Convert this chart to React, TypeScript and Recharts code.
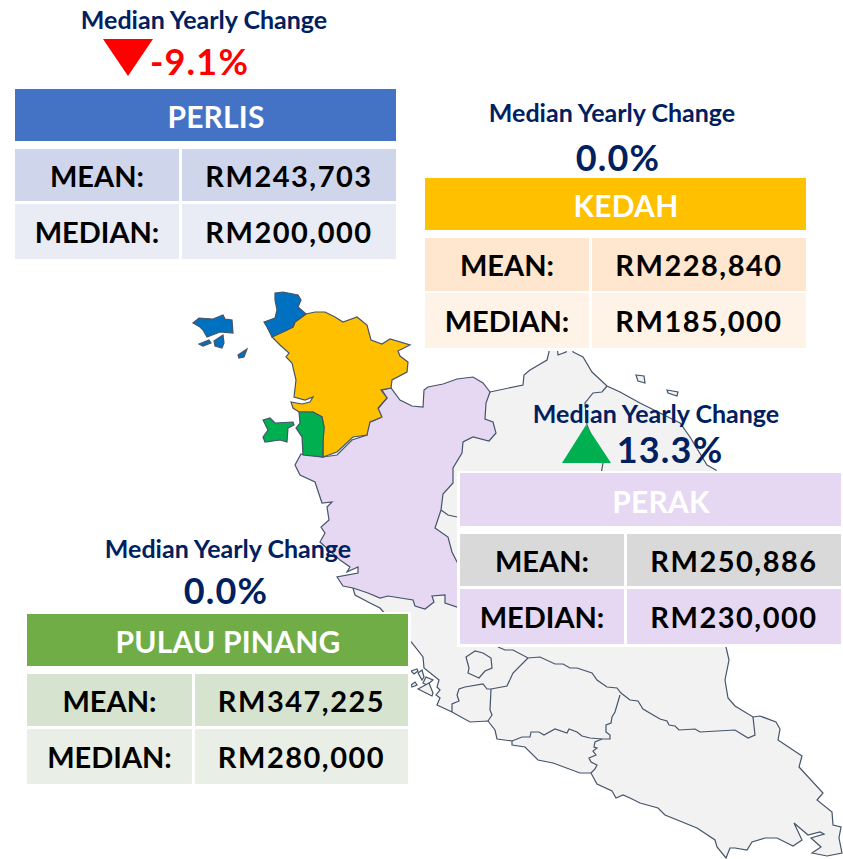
import React from "react";
import { Polygon, Scatter, ScatterChart, XAxis, YAxis } from "recharts";

type Pt = { x: number; y: number };

const toPts = (raw: number[][]): Pt[] => raw.map(([x, y]) => ({ x, y }));

// map outlines in pixel units
const peninsula = [
  [490, 392], [523, 385], [524, 375], [530, 370], [547, 360], [549, 352], [549, 345], [557, 345], [558, 355], [566, 352],
  [566, 345], [573, 345], [573, 352], [583, 357], [592, 372], [607, 386], [620, 392], [640, 403], [660, 413], [680, 423],
  [690, 437], [707, 465], [716, 470], [726, 600], [726, 647], [729, 660], [725, 680], [728, 698], [735, 706], [753, 717],
  [760, 716], [776, 722], [780, 729], [778, 740], [802, 756], [799, 767], [823, 793], [817, 800], [832, 812], [833, 825],
  [841, 827], [839, 838], [842, 853], [827, 856], [812, 853], [821, 847], [811, 838], [824, 834], [820, 832], [808, 835],
  [794, 823], [802, 840], [793, 846], [777, 838], [765, 838], [752, 842], [747, 850], [735, 848], [730, 848], [726, 858],
  [717, 847], [715, 840], [697, 828], [665, 815], [658, 808], [640, 803], [630, 798], [623, 795], [616, 798], [612, 791],
  [597, 784], [591, 773], [580, 773], [553, 763], [538, 760], [525, 747], [512, 745], [512, 741], [497, 739], [495, 730],
  [488, 721], [470, 722], [452, 712], [437, 705], [440, 698], [436, 695], [440, 690], [437, 687], [439, 680], [424, 668],
  [423, 657], [412, 643], [395, 625], [380, 608], [370, 603], [355, 595], [353, 588], [420, 500],
];
const perak = [
  [301, 454], [323, 457], [337, 455], [352, 440], [367, 435], [368, 423], [380, 418], [377, 410], [387, 398], [382, 390],
  [391, 388], [400, 400], [412, 406], [423, 407], [424, 390], [428, 387], [443, 384], [457, 379], [473, 377], [483, 383],
  [490, 392], [486, 403], [485, 419], [493, 422], [496, 433], [489, 441], [473, 437], [463, 442], [462, 453], [453, 468],
  [453, 483], [443, 494], [441, 510], [435, 528], [448, 537], [452, 552], [457, 562], [470, 580], [470, 600], [457, 607],
  [445, 603], [445, 595], [432, 596], [434, 602], [425, 609], [415, 606], [413, 600], [388, 596], [380, 598], [368, 593],
  [353, 588], [343, 586], [337, 577], [358, 573], [358, 567], [347, 572], [350, 567], [340, 560], [320, 542], [325, 533],
  [321, 527], [329, 520], [327, 507], [332, 502], [322, 503], [315, 482], [300, 475], [295, 465],
];
const kedah = [
  [272, 337], [287, 330], [293, 327], [295, 322], [306, 314], [315, 312], [325, 312], [335, 317], [343, 322], [357, 317],
  [367, 325], [371, 340], [382, 344], [390, 339], [410, 345], [398, 351], [400, 356], [408, 362], [407, 372], [392, 380],
  [391, 388], [381, 390], [387, 398], [378, 408], [382, 417], [370, 422], [367, 435], [353, 437], [337, 452], [323, 457],
  [323, 443], [324, 427], [322, 417], [313, 412], [299, 412], [293, 408], [291, 402], [302, 404], [310, 402], [313, 397],
  [305, 400], [294, 397], [296, 380], [292, 363], [286, 357], [289, 353], [280, 345],
];
const perlisMain = [
  [275, 293], [283, 292], [298, 295], [301, 300], [298, 307], [306, 314], [295, 322], [293, 327], [287, 330], [272, 337],
  [267, 327], [264, 322], [275, 318], [277, 310], [275, 300],
];
const langkawi = [
  [193, 323], [199, 318], [213, 319], [223, 315], [225, 319], [232, 320], [233, 333], [220, 332], [207, 337], [203, 330], [200, 327],
];
const perlisIsleA = [[199, 344], [209, 340], [211, 343], [203, 346]];
const perlisIsleB = [[214, 341], [223, 335], [224, 343], [222, 348], [215, 346]];
const perlisIsleC = [[238, 355], [247, 349], [244, 357], [239, 358]];
const pinangMainland = [
  [299, 412], [313, 412], [322, 417], [324, 427], [323, 443], [323, 457], [303, 455], [302, 437], [296, 428], [300, 423],
];
const pinangIsland = [
  [263, 420], [270, 418], [275, 423], [293, 422], [294, 425], [288, 428], [287, 442], [280, 440], [265, 442], [263, 437], [268, 430],
];
const lake = [[475, 651], [466, 657], [469, 668], [468, 673], [479, 678], [485, 671], [492, 668], [491, 658], [483, 653]];
const isles = [
  [[411, 671], [417, 669], [418, 671], [414, 674]],
  [[418, 673], [422, 670], [424, 677], [422, 680]],
  [[423, 683], [426, 677], [433, 680], [427, 685]],
  [[411, 685], [415, 682], [417, 685], [412, 687]],
  [[418, 689], [429, 683], [433, 693], [432, 696]],
  [[636, 375], [644, 376], [645, 383], [638, 381]],
  [[667, 390], [678, 392], [677, 396], [668, 393]],
];
const borders = [
  [[607, 386], [602, 392], [593, 393], [585, 403], [587, 425], [595, 445], [603, 463], [601, 474]],
  [[441, 510], [448, 515], [457, 517]],
  [
    [498, 647], [505, 650], [513, 650], [528, 658], [540, 657], [555, 664], [563, 664], [570, 668], [577, 668], [592, 673],
    [597, 680], [607, 687], [617, 688], [621, 693], [630, 700], [638, 701], [643, 709], [660, 719], [667, 721], [669, 725],
    [675, 726], [679, 730], [695, 729], [700, 732], [735, 730], [748, 738], [755, 735], [753, 717],
  ],
  [[528, 658], [513, 673], [507, 686], [491, 689], [487, 689], [483, 684], [465, 687], [459, 689], [457, 695], [459, 701], [452, 704], [452, 712]],
  [[491, 689], [490, 710], [492, 715], [488, 721]],
  [
    [512, 741], [522, 737], [530, 737], [531, 732], [539, 732], [544, 735], [555, 729], [567, 733], [569, 729], [577, 732],
    [582, 736], [590, 738], [602, 739], [610, 739], [610, 735], [606, 732], [606, 725], [611, 723], [612, 717], [615, 712], [620, 695],
  ],
  [[602, 739], [595, 742], [594, 747], [597, 748], [593, 751], [596, 755], [589, 758], [591, 762], [597, 765], [595, 769], [591, 773]],
];
const arrowDown = [[103, 39], [153, 39], [128, 76]];
const arrowUp = [[562, 463], [611, 463], [586, 425]];

// table values
const stateNames = ["PERLIS", "KEDAH", "PERAK", "PULAU PINANG"];
const meanValues = ["RM243,703", "RM228,840", "RM250,886", "RM347,225"];
const medianValues = ["RM200,000", "RM185,000", "RM230,000", "RM280,000"];
const changeValues = ["-9.1%", "0.0%", "13.3%", "0.0%"];

const FONT = "Lato, sans-serif";
const LINE = "#44546a";

const layouts = [
  { left: 15, top: 89, split: 164, h: [52, 52, 55], r: [149, 204], head: "#4472c4", c1: "#cfd5ea", c2: "#e9ebf5", headText: "#fff", cap: [204, 20], val: [199.5, 61], valColor: "#ff0000" },
  { left: 425, top: 178, split: 164, h: [52, 53, 55], r: [238, 293], head: "#ffc000", c1: "#ffe6cf", c2: "#fff3e8", headText: "#fff", cap: [612, 113], val: [618, 157], valColor: "#002060" },
  { left: 460, top: 473, split: 164, h: [53, 52, 55], r: [534, 589], head: "#e6d8f2", c1: "#d9d9d9", c2: "#e6d8f2", headText: "#fff", cap: [656, 414], val: [670, 449], valColor: "#002060" },
  { left: 27, top: 614, split: 165, h: [52, 52, 55], r: [674, 729], head: "#70ad47", c1: "#d5e3cf", c2: "#e9efe7", headText: "#fff", cap: [228, 549], val: [226, 590], valColor: "#002060" },
];
const TABLE_W = 381;

const closedShape = (fill: string) => (props: any) => (
  <Polygon points={props.points} fill={fill} stroke={LINE} strokeWidth={1.2} />
);
const noPoint = () => <g />;

const Region = (raw: number[][], fill: string, key: string) => (
  <Scatter
    key={key}
    data={toPts(raw)}
    line={closedShape(fill)}
    shape={noPoint}
    isAnimationActive={false}
  />
);

const Arrow = (raw: number[][], fill: string, key: string) => (
  <Scatter
    key={key}
    data={toPts(raw)}
    line={(props: any) => <Polygon points={props.points} fill={fill} stroke="none" />}
    shape={noPoint}
    isAnimationActive={false}
  />
);

const Cell = ({ x, y, w, h, bg, color, size, spacing, pad, padTop, children }: any) => (
  <div
    style={{
      position: "absolute",
      left: x,
      top: y,
      width: w,
      height: h,
      background: bg,
      color,
      fontFamily: FONT,
      fontWeight: 700,
      fontSize: size,
      letterSpacing: spacing,
      display: "flex",
      alignItems: "center",
      justifyContent: "center",
      whiteSpace: "nowrap",
      paddingLeft: pad,
      paddingTop: padTop,
      boxSizing: "border-box",
    }}
  >
    {children}
  </div>
);

const Centered = ({ cx, cy, color, size, spacing, children }: any) => (
  <Cell x={cx - 150} y={cy - 25} w={300} h={50} color={color} size={size} spacing={spacing}>
    {children}
  </Cell>
);

export default function App() {
  return (
    <div style={{ position: "absolute", left: 0, top: 0, width: 843, height: 859, background: "#fff", overflow: "hidden" }}>
      <ScatterChart width={843} height={859} margin={{ top: 0, right: 0, bottom: 0, left: 0 }}>
        <XAxis type="number" dataKey="x" domain={[0, 843]} hide />
        <YAxis type="number" dataKey="y" domain={[0, 859]} reversed hide />
        {Region(peninsula, "#f2f2f2", "peninsula")}
        {borders.map((b, i) => (
          <Scatter key={`border${i}`} data={toPts(b)} line={{ stroke: LINE, strokeWidth: 1.2 }} shape={noPoint} isAnimationActive={false} />
        ))}
        {Region(lake, "#f2f2f2", "lake")}
        {isles.map((p, i) => Region(p, "#f2f2f2", `isle${i}`))}
        {Region(perak, "#e6d8f2", "perak")}
        {Region(kedah, "#ffc000", "kedah")}
        {Region(perlisMain, "#0070c0", "perlis")}
        {Region(langkawi, "#0070c0", "langkawi")}
        {Region(perlisIsleA, "#0070c0", "pa")}
        {Region(perlisIsleB, "#0070c0", "pb")}
        {Region(perlisIsleC, "#0070c0", "pc")}
        {Region(pinangMainland, "#00b050", "pinangm")}
        {Region(pinangIsland, "#00b050", "pinangi")}
      </ScatterChart>

      {layouts.map((t, i) => (
        <React.Fragment key={stateNames[i]}>
          <Cell x={t.left - 3} y={t.top - 2} w={TABLE_W + 6} h={t.r[1] + t.h[2] - t.top + 5} bg="#fff" />
          <Cell x={t.left} y={t.top} w={TABLE_W} h={t.h[0]} bg={t.head} color={t.headText} size={30} spacing={0.2} pad={21} padTop={2}>
            {stateNames[i]}
          </Cell>
          <Cell x={t.left} y={t.r[0]} w={t.split} h={t.h[1]} bg={t.c1} color="#000" size={29} spacing={0}>MEAN:</Cell>
          <Cell x={t.left + t.split + 3} y={t.r[0]} w={TABLE_W - t.split - 3} h={t.h[1]} bg={t.c1} color="#000" size={29} spacing={1.5}>{meanValues[i]}</Cell>
          <Cell x={t.left} y={t.r[1]} w={t.split} h={t.h[2]} bg={t.c2} color="#000" size={29} spacing={0}>MEDIAN:</Cell>
          <Cell x={t.left + t.split + 3} y={t.r[1]} w={TABLE_W - t.split - 3} h={t.h[2]} bg={t.c2} color="#000" size={29} spacing={1.5}>{medianValues[i]}</Cell>
        </React.Fragment>
      ))}

      {/* arrows sit on their own chart layer, above the map and under the labels */}
      <div style={{ position: "absolute", left: 0, top: 0 }}>
        <ScatterChart width={843} height={859} margin={{ top: 0, right: 0, bottom: 0, left: 0 }}>
          <XAxis type="number" dataKey="x" domain={[0, 843]} hide />
          <YAxis type="number" dataKey="y" domain={[0, 859]} reversed hide />
          {Arrow(arrowDown, "#ff0000", "down")}
          {Arrow(arrowUp, "#00b050", "up")}
        </ScatterChart>
      </div>

      {layouts.map((t, i) => (
        <React.Fragment key={`cap${i}`}>
          <Centered cx={t.cap[0]} cy={t.cap[1] - 1} color="#002060" size={25}>Median Yearly Change</Centered>
          <Centered cx={t.val[0]} cy={t.val[1]} color={t.valColor} size={36} spacing={1.2}>{changeValues[i]}</Centered>
        </React.Fragment>
      ))}
    </div>
  );
}
